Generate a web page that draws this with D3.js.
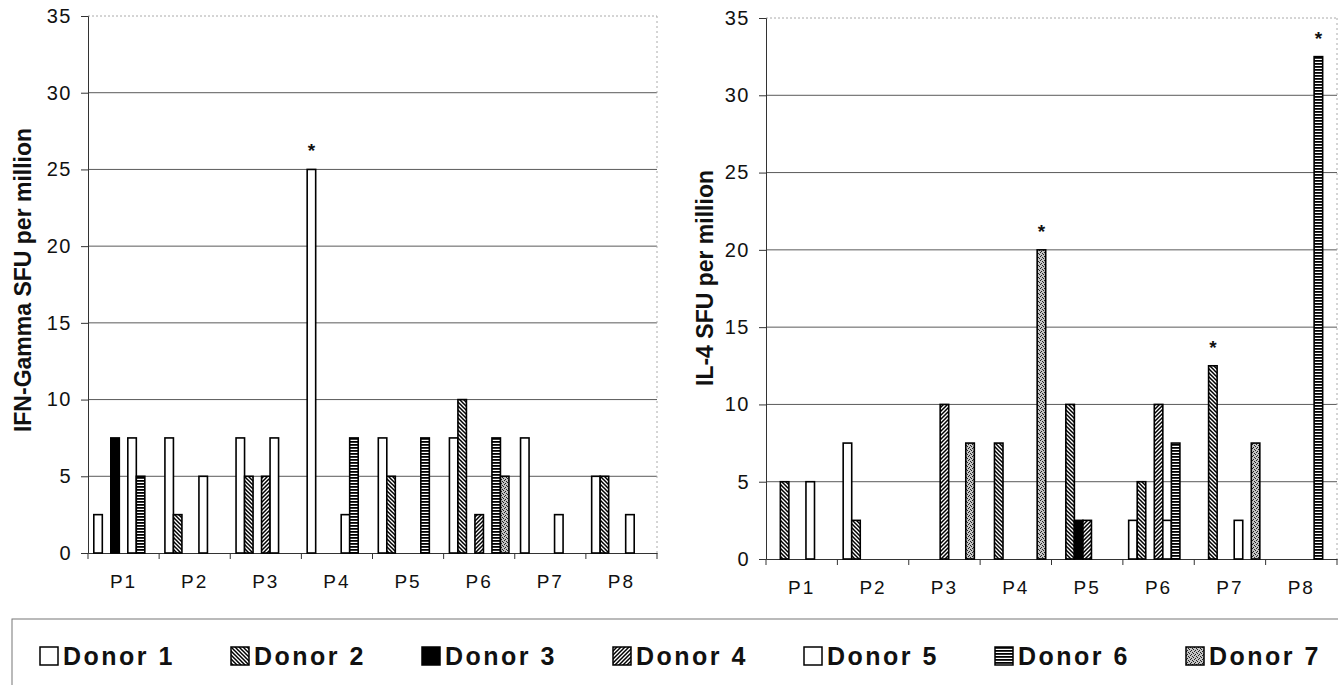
<!DOCTYPE html>
<html>
<head>
<meta charset="utf-8">
<script src="https://cdn.jsdelivr.net/npm/d3@7"></script>
<style>
  body { margin: 0; background: #fff; }
  svg text { font-family: "Liberation Sans", Arial, sans-serif; fill: #111; }
</style>
</head>
<body>
<svg id="chart" width="1338" height="685"></svg>
<script>
const categories = ['P1', 'P2', 'P3', 'P4', 'P5', 'P6', 'P7', 'P8'];
const donors = ['Donor 1', 'Donor 2', 'Donor 3', 'Donor 4', 'Donor 5', 'Donor 6', 'Donor 7'];
const yTicks = [0, 5, 10, 15, 20, 25, 30, 35];

// IFN-Gamma SFU per million, P1..P8
const ifnDonor1 = [2.5, 7.5, 7.5, 25, 7.5, 7.5, 7.5, 5];
const ifnDonor2 = [0, 2.5, 5, 0, 5, 10, 0, 5];
const ifnDonor3 = [7.5, 0, 0, 0, 0, 0, 0, 0];
const ifnDonor4 = [0, 0, 5, 0, 0, 2.5, 0, 0];
const ifnDonor5 = [7.5, 5, 7.5, 2.5, 0, 0, 2.5, 2.5];
const ifnDonor6 = [5, 0, 0, 7.5, 7.5, 7.5, 0, 0];
const ifnDonor7 = [0, 0, 0, 0, 0, 5, 0, 0];
const ifnStars = [['P4', 'Donor 1']];

// IL-4 SFU per million, P1..P8
const il4Donor1 = [0, 7.5, 0, 0, 0, 2.5, 0, 0];
const il4Donor2 = [5, 2.5, 0, 7.5, 10, 5, 12.5, 0];
const il4Donor3 = [0, 0, 0, 0, 2.5, 0, 0, 0];
const il4Donor4 = [0, 0, 10, 0, 2.5, 10, 0, 0];
const il4Donor5 = [5, 0, 0, 0, 0, 2.5, 2.5, 0];
const il4Donor6 = [0, 0, 0, 0, 0, 7.5, 0, 32.5];
const il4Donor7 = [0, 0, 7.5, 20, 0, 0, 7.5, 0];
const il4Stars = [['P4', 'Donor 7'], ['P7', 'Donor 2'], ['P8', 'Donor 6']];

const fills = ['#fff', 'url(#back)', '#000', 'url(#fwd)', '#fff', 'url(#horiz)', 'url(#stipple)'];

const svg = d3.select('#chart');
const defs = svg.append('defs');

function pattern(id, w, h, bg, draw) {
    let p = defs.append('pattern')
        .attr('id', id)
        .attr('patternUnits', 'userSpaceOnUse')
        .attr('width', w)
        .attr('height', h);
    p.append('rect').attr('width', w).attr('height', h).attr('fill', bg);
    draw(p);
}

pattern('back', 4, 4, '#fff', p => p.append('path')
    .attr('d', 'M-1,-1L5,5M-1,3L1,5M3,-1L5,1')
    .attr('stroke', '#000').attr('stroke-width', 1.5));
pattern('fwd', 4, 4, '#fff', p => p.append('path')
    .attr('d', 'M-1,5L5,-1M-1,1L1,-1M3,5L5,3')
    .attr('stroke', '#000').attr('stroke-width', 1.5));
pattern('horiz', 4, 3, '#fff', p => p.append('path')
    .attr('d', 'M0,0.9H4')
    .attr('stroke', '#000').attr('stroke-width', 1.8));
pattern('stipple', 4, 4, '#c4c4c4', p => {
    [[0, 0], [2, 1], [1, 3], [3, 2]].forEach(d => p.append('rect')
        .attr('x', d[0]).attr('y', d[1]).attr('width', 1).attr('height', 1).attr('fill', '#222'));
});

function drawPanel(cfg) {
    const g = svg.append('g');
    const series = cfg.series;

    let x0 = d3.scaleBand().domain(categories).range(cfg.xRange);
    let x1 = d3.scaleBand().domain(donors).range([5.8, x0.bandwidth() - 5.8]);
    let y = d3.scaleLinear().domain([0, 35]).range(cfg.yRange);

    const left = cfg.xRange[0], right = cfg.xRange[1];

    // gridlines
    g.selectAll('.grid')
        .data(yTicks.filter(t => t > 0))
        .enter()
        .append('line')
        .attr('x1', left).attr('x2', right)
        .attr('y1', d => y(d)).attr('y2', d => y(d))
        .attr('stroke', d => d == 35 ? '#aaa' : '#5a5a5a')
        .attr('stroke-dasharray', d => d == 35 ? '2,2' : null)
        .attr('stroke-width', 1);

    g.append('line')
        .attr('x1', right).attr('x2', right)
        .attr('y1', y(35)).attr('y2', y(0))
        .attr('stroke', '#aaa')
        .attr('stroke-dasharray', '2,3');

    // y axis
    let yAxis = d3.axisLeft(y).tickValues(yTicks).tickSize(7).tickPadding(9);
    let ya = g.append('g')
        .attr('transform', `translate(${left},0)`)
        .call(yAxis);
    ya.select('.domain').attr('stroke', '#333');
    ya.selectAll('.tick line').attr('stroke', '#333');
    ya.selectAll('.tick text')
        .attr('font-size', 20)
        .attr('letter-spacing', 1.5)
        .attr('fill', '#111');

    // x axis
    let xAxis = d3.axisBottom(x0).tickSize(0).tickPadding(0);
    let xa = g.append('g')
        .attr('transform', `translate(0,${y(0)})`)
        .call(xAxis);
    xa.select('.domain').attr('stroke', '#333');
    xa.selectAll('.tick text')
        .attr('font-size', 19)
        .attr('letter-spacing', 2)
        .attr('dy', null)
        .attr('y', cfg.labelY - y(0));

    xa.selectAll('.bound')
        .data(categories.map(c => x0(c)).concat([right]))
        .enter()
        .append('line')
        .attr('x1', d => d).attr('x2', d => d)
        .attr('y1', 0).attr('y2', 6)
        .attr('stroke', '#333');

    // bars
    donors.forEach((donor, di) => {
        let vals = series[di].map((v, i) => ({ cat: categories[i], v: v })).filter(d => d.v > 0);
        g.selectAll(null)
            .data(vals)
            .enter()
            .append('rect')
            .attr('x', d => x0(d.cat) + x1(donor))
            .attr('y', d => y(d.v))
            .attr('width', x1.bandwidth())
            .attr('height', d => y(0) - y(d.v))
            .attr('fill', fills[di])
            .attr('stroke', '#000')
            .attr('stroke-width', 1.6);
    });

    // significance marks
    g.selectAll('.star')
        .data(cfg.stars)
        .enter()
        .append('text')
        .attr('x', d => x0(d[0]) + x1(d[1]) + x1.bandwidth() / 2)
        .attr('y', d => y(series[donors.indexOf(d[1])][categories.indexOf(d[0])]) - 12)
        .attr('text-anchor', 'middle')
        .attr('font-size', 19)
        .attr('font-weight', 'bold')
        .text('*');

    // axis title
    g.append('text')
        .attr('transform', `translate(${cfg.titleX},${cfg.titleY}) rotate(-90)`)
        .attr('text-anchor', 'middle')
        .attr('font-size', 23)
        .attr('font-weight', 'bold')
        .text(cfg.title);
}

drawPanel({
    xRange: [88, 657],
    yRange: [553, 16],
    labelY: 588,
    series: [ifnDonor1, ifnDonor2, ifnDonor3, ifnDonor4, ifnDonor5, ifnDonor6, ifnDonor7],
    stars: ifnStars,
    title: 'IFN-Gamma SFU per million',
    titleX: 31,
    titleY: 280
});

drawPanel({
    xRange: [766, 1337],
    yRange: [559, 18],
    labelY: 594,
    series: [il4Donor1, il4Donor2, il4Donor3, il4Donor4, il4Donor5, il4Donor6, il4Donor7],
    stars: il4Stars,
    title: 'IL-4 SFU per million',
    titleX: 713,
    titleY: 278
});

// legend
let legend = svg.append('g');
legend.append('rect')
    .attr('x', 12).attr('y', 619)
    .attr('width', 1400).attr('height', 120)
    .attr('fill', 'none')
    .attr('stroke', '#777');

let item = legend.selectAll('.item')
    .data(donors)
    .enter()
    .append('g')
    .attr('transform', (d, i) => `translate(${40 + 191 * i},647)`);

item.append('rect')
    .attr('width', 18).attr('height', 18)
    .attr('fill', (d, i) => fills[i])
    .attr('stroke', '#000')
    .attr('stroke-width', 1.5);

item.append('text')
    .attr('x', 23).attr('y', 18)
    .attr('font-size', 25)
    .attr('font-weight', 'bold')
    .attr('letter-spacing', 2.5)
    .text(d => d);
</script>
</body>
</html>
